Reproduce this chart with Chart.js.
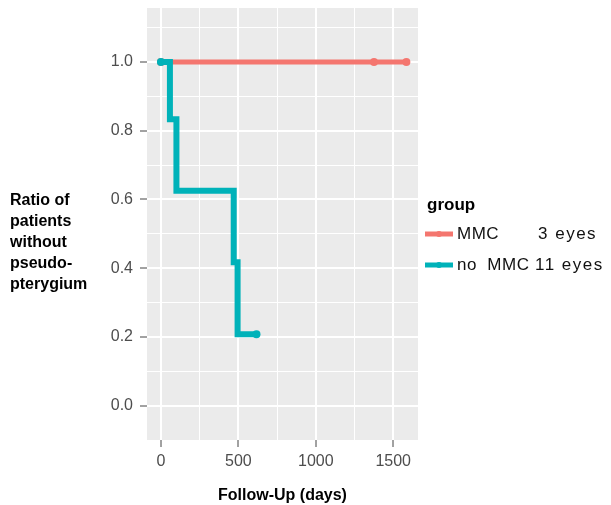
<!DOCTYPE html>
<html>
<head>
<meta charset="utf-8">
<script src="https://cdn.jsdelivr.net/npm/chart.js@4.4.1/dist/chart.umd.min.js"></script>
<style>
  html, body { margin: 0; padding: 0; background: #fff; }
</style>
</head>
<body>
<canvas id="kmChart" width="611" height="505"></canvas>
<script>
// Kaplan-Meier data
const groupNames = ['MMC', 'no  MMC'];
const groupCounts = ['3 eyes', '11 eyes'];

const mmcDays = [0, 1376, 1585];
const mmcRatio = [1, 1, 1];
const mmcCensored = [true, true, true];

const noMmcDays = [0, 58, 100, 470, 495, 617];
const noMmcRatio = [1, 0.833, 0.625, 0.417, 0.208, 0.208];
const noMmcCensored = [true, false, false, false, false, true];

const xTickValues = [0, 500, 1000, 1500];
const yTickValues = [0, 0.2, 0.4, 0.6, 0.8, 1.0];

const redColor = '#F4766F';
const tealColor = '#00B2B9';

function toPoints(days, ratio) {
    return days.map((d, i) => ({ x: d, y: ratio[i] }));
}

// major + minor (midpoint) ticks for ggplot-like grid
function withMinor(values, step) {
    const out = [];
    values.forEach(v => { out.push(v); out.push(v + step / 2); });
    return out;
}

const bgPlugin = {
    id: 'panelBg',
    beforeDraw(chart) {
        const { ctx, chartArea: a } = chart;
        ctx.save();
        ctx.fillStyle = '#EBEBEB';
        ctx.fillRect(a.left, a.top, a.right - a.left, a.bottom - a.top);
        ctx.restore();
    }
};

const sidePlugin = {
    id: 'sideText',
    afterDraw(chart) {
        const ctx = chart.ctx;
        ctx.save();
        // y axis title, horizontal, several lines
        ctx.fillStyle = '#000';
        ctx.font = 'bold 16px "Liberation Sans", Arial, sans-serif';
        ctx.textAlign = 'left';
        ctx.textBaseline = 'middle';
        const lines = ['Ratio of', 'patients', 'without', 'pseudo-', 'pterygium'];
        lines.forEach((t, i) => ctx.fillText(t, 10, 201 + i * 20.8));

        // legend
        ctx.font = 'bold 17px "Liberation Sans", Arial, sans-serif';
        ctx.fillText('group', 427, 205);
        ctx.font = '17px "Liberation Sans", Arial, sans-serif';
        const cols = [redColor, tealColor];
        const ys = [234, 265];
        groupNames.forEach((name, i) => {
            ctx.strokeStyle = cols[i];
            ctx.lineWidth = 5;
            ctx.beginPath();
            ctx.moveTo(425, ys[i]);
            ctx.lineTo(453, ys[i]);
            ctx.stroke();
            ctx.fillStyle = cols[i];
            ctx.beginPath();
            ctx.arc(439, ys[i], 3, 0, Math.PI * 2);
            ctx.fill();
            ctx.fillStyle = '#111';
            ctx.letterSpacing = '0.5px';
            ctx.fillText(name, 457, ys[i]);
            ctx.letterSpacing = '1.5px';
            ctx.fillText(groupCounts[i], i === 0 ? 538 : 535, ys[i]);
        });
        ctx.restore();
    }
};

const tickFont = { family: '"Liberation Sans", Arial, sans-serif', size: 16 };

new Chart(document.getElementById('kmChart').getContext('2d'), {
    type: 'line',
    data: {
        datasets: [{
            label: groupNames[0],
            data: toPoints(mmcDays, mmcRatio),
            borderColor: redColor,
            backgroundColor: redColor,
            borderWidth: 5,
            stepped: 'before',
            order: 1,
            pointRadius: mmcCensored.map(c => c ? 4 : 0),
            pointBorderWidth: 0
        }, {
            label: groupNames[1],
            data: toPoints(noMmcDays, noMmcRatio),
            borderColor: tealColor,
            backgroundColor: tealColor,
            borderWidth: 6,
            stepped: 'before',
            order: 0,
            pointRadius: noMmcCensored.map(c => c ? 4 : 0),
            pointBorderWidth: 0
        }]
    },
    options: {
        responsive: false,
        animation: false,
        devicePixelRatio: 1,
        layout: { padding: { top: 8, right: 193, left: 0, bottom: 0 } },
        plugins: {
            legend: { display: false },
            tooltip: { enabled: false }
        },
        scales: {
            x: {
                type: 'linear',
                min: -90,
                max: 1660,
                afterBuildTicks: s => { s.ticks = withMinor(xTickValues, 500).map(v => ({ value: v })); },
                afterFit: s => { s.height = 65; s.paddingLeft = 0; s.paddingRight = 0; },
                border: { display: false },
                grid: {
                    color: '#FFFFFF',
                    lineWidth: c => xTickValues.includes(c.tick.value) ? 2 : 1,
                    tickColor: c => xTickValues.includes(c.tick.value) ? '#444' : 'rgba(0,0,0,0)',
                    tickWidth: 1,
                    tickLength: 7
                },
                ticks: {
                    color: '#4D4D4D',
                    font: tickFont,
                    padding: 5,
                    maxRotation: 0,
                    autoSkip: false,
                    callback: v => xTickValues.includes(v) ? String(v) : ''
                },
                title: {
                    display: true,
                    text: 'Follow-Up (days)',
                    color: '#000',
                    font: { family: '"Liberation Sans", Arial, sans-serif', size: 16, weight: 'bold' },
                    padding: { top: 0, bottom: 0 }
                }
            },
            y: {
                type: 'linear',
                min: -0.1,
                max: 1.157,
                afterBuildTicks: s => { s.ticks = withMinor(yTickValues, 0.2).map(v => ({ value: Math.round(v * 10) / 10 })); },
                afterFit: s => { s.width = 147; s.paddingTop = 0; s.paddingBottom = 0; },
                border: { display: false },
                grid: {
                    color: '#FFFFFF',
                    lineWidth: c => yTickValues.includes(c.tick.value) ? 2 : 1,
                    tickColor: c => yTickValues.includes(c.tick.value) ? '#444' : 'rgba(0,0,0,0)',
                    tickWidth: 1,
                    tickLength: 7
                },
                ticks: {
                    color: '#4D4D4D',
                    font: tickFont,
                    padding: 7,
                    autoSkip: false,
                    callback: v => yTickValues.includes(v) ? v.toFixed(1) : ''
                }
            }
        }
    },
    plugins: [bgPlugin, sidePlugin]
});
</script>
</body>
</html>
